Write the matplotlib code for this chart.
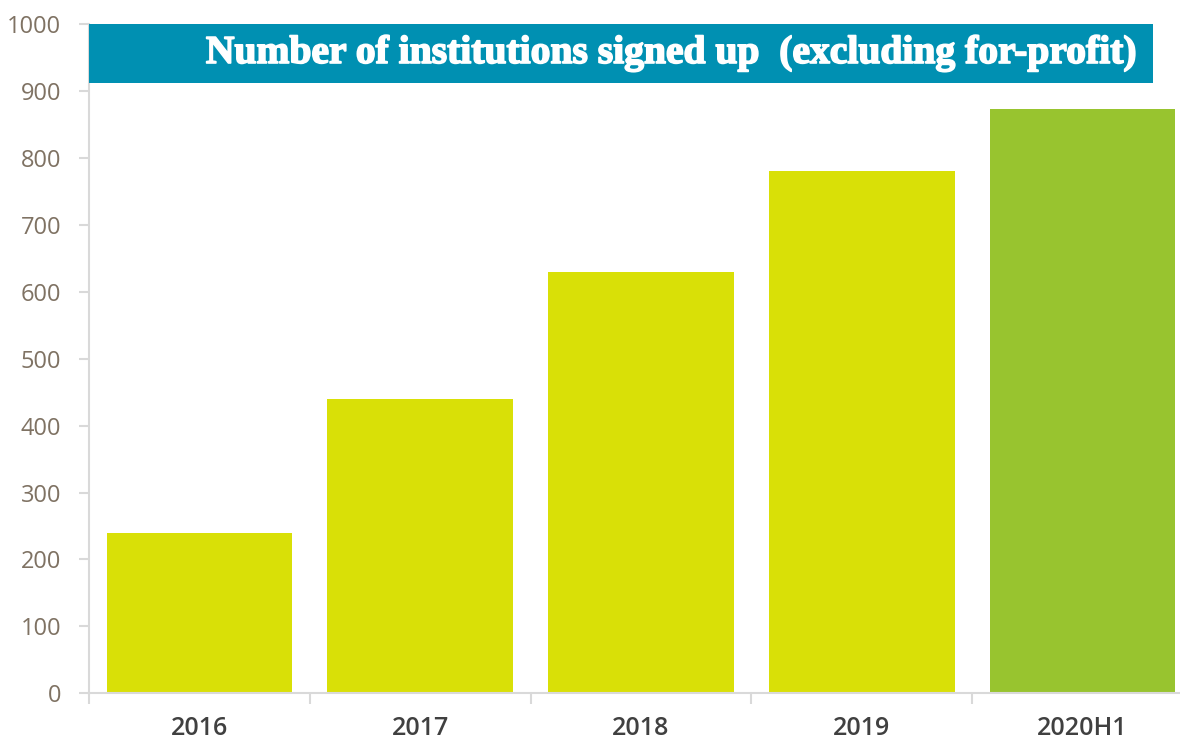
import matplotlib
matplotlib.use("Agg")
import matplotlib.pyplot as plt
from matplotlib.patches import Rectangle
from matplotlib.ticker import FixedLocator
import matplotlib.patheffects as pe

categories = ["2016", "2017", "2018", "2019", "2020H1"]
values = [240, 440, 630, 780, 873]
bar_colors = ["#d9e007", "#d9e007", "#d9e007", "#d9e007", "#98c42f"]
title = "Number of institutions signed up  (excluding for-profit)"
y_ticks = list(range(0, 1001, 100))

fig = plt.figure(figsize=(11.8, 7.39), dpi=100)
ax = fig.add_axes([89/1180, (739-693.3)/739, 1104/1180, 669.3/739])

x = list(range(len(categories)))
ax.bar(x, values, width=0.84, color=bar_colors, zorder=2)

ax.set_xlim(-0.5, len(categories) - 0.5)
ax.set_ylim(0, 1000)

for s in ["top", "right"]:
    ax.spines[s].set_visible(False)
for s in ["left", "bottom"]:
    ax.spines[s].set_color("#d9d9d9")
    ax.spines[s].set_linewidth(1.5)

ax.set_yticks(y_ticks)
ax.set_yticklabels([str(t) for t in y_ticks], fontfamily="Open Sans",
                   fontsize=17, color="#7f7263")
ax.tick_params(axis="y", length=7, width=1.5, color="#d9d9d9", pad=13)

ax.set_xticks(x)
ax.set_xticklabels(categories, fontfamily="Open Sans", fontweight="semibold",
                   fontsize=18, color="#404040")
ax.tick_params(axis="x", which="major", length=0, pad=16)
ax.xaxis.set_minor_locator(FixedLocator([i - 0.5 for i in range(len(categories) + 1)]))
ax.tick_params(axis="x", which="minor", length=8, width=1.5, color="#d9d9d9")

# title banner
bx0 = 0.0
bx1 = (1153 - 89) / 1104
by0 = (693.3 - 83) / 669.3
ax.add_patch(Rectangle((bx0, by0), bx1 - bx0, 1 - by0, transform=ax.transAxes,
                       facecolor="#0090b2", edgecolor="none", zorder=5, clip_on=False))
ax.text((1137 - 89) / 1104, (by0 + 1) / 2, title, transform=ax.transAxes,
        ha="right", va="center", fontfamily="Liberation Serif", fontweight="bold",
        fontsize=28.5, color="white", zorder=6,
        path_effects=[pe.withStroke(linewidth=1.2, foreground="white")])

fig.savefig("out.png", dpi=100)
